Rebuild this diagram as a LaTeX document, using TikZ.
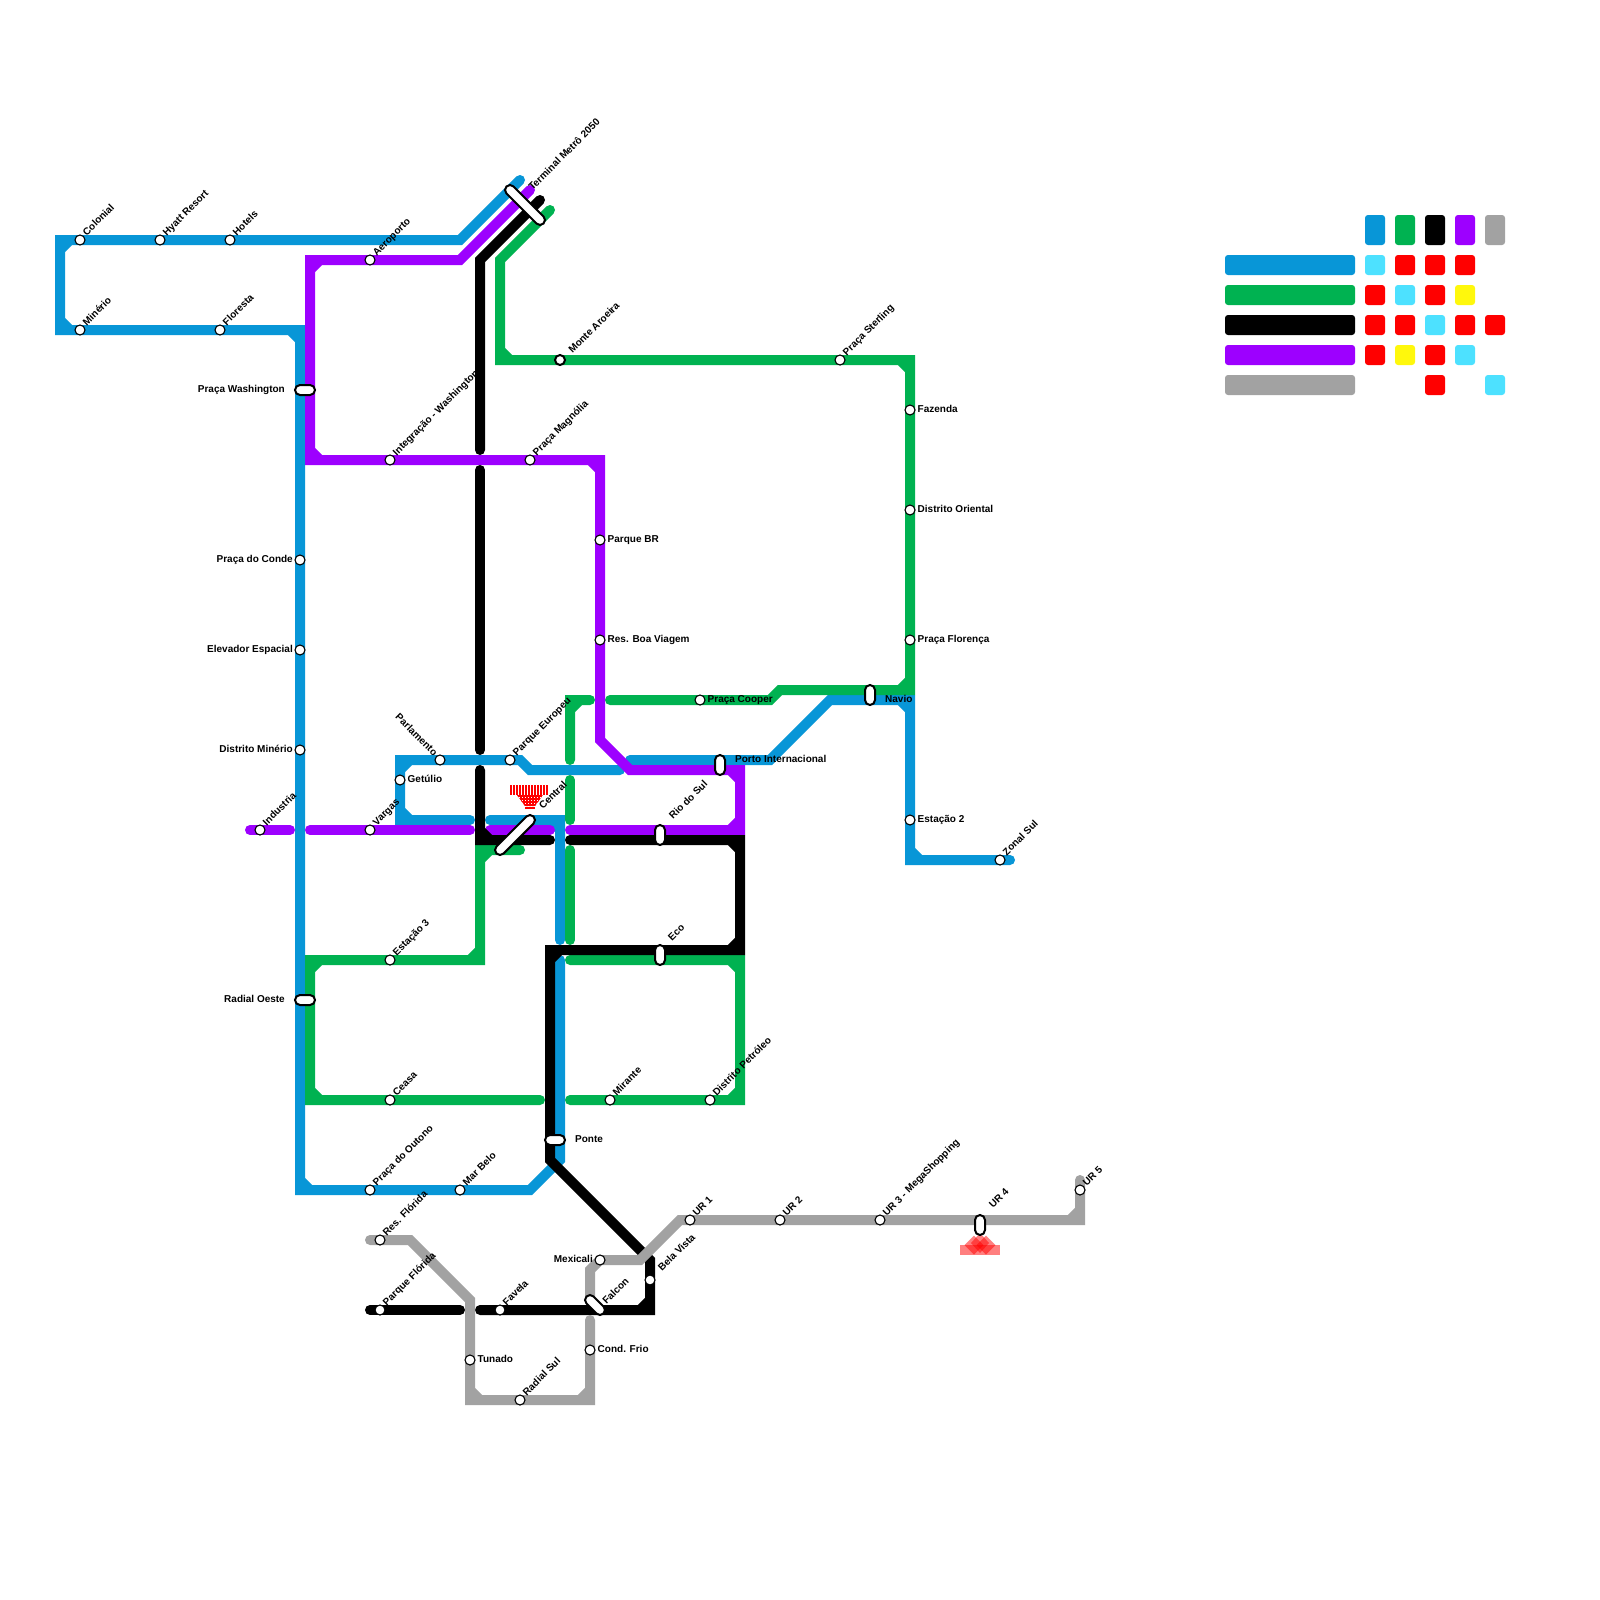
\documentclass[tikz,border=0pt]{standalone}
\usepackage{fontspec}
\setmainfont{Liberation Sans}
\usetikzlibrary{calc}
\definecolor{cblue}{HTML}{0896D7}
\definecolor{cgreen}{HTML}{00B251}
\definecolor{cpurple}{HTML}{9D00FF}
\definecolor{cgrey}{HTML}{A2A2A2}
\definecolor{ccyan}{HTML}{4DE1FF}
\definecolor{cyell}{HTML}{FFF80C}
\pgfdeclarelayer{bg}
\pgfsetlayers{bg,main}
\tikzset{
  metro/.style={line width=10pt,line cap=round,line join=miter,miter limit=10},
  lblue/.style={metro,draw=cblue},
  lgreen/.style={metro,draw=cgreen},
  lpurple/.style={metro,draw=cpurple},
  lblack/.style={metro,draw=black},
  lgrey/.style={metro,draw=cgrey},
  stn/.style={circle,draw=black,fill=white,line width=1.1pt,minimum size=10pt,inner sep=0pt},
  capn/.style={rectangle,draw=black,fill=white,line width=2pt,rounded corners=5pt,inner sep=0pt,minimum height=10pt},
  txt/.style={inner sep=0pt,font=\bfseries\fontsize{10}{10}\selectfont,text=black},
  lup/.style={txt,anchor=base west,rotate=45},
  lupl/.style={txt,anchor=base east,rotate=-45},
  lrt/.style={txt,anchor=base west},
  llf/.style={txt,anchor=base east},
}
\newcommand\stU[4]{\node[stn] (#1) at (#2,#3) {}; \node[lup] (#1L) at ([shift={(6.7,-3.7)}]#1.center) {#4};}
\newcommand\stR[4]{\node[stn] (#1) at (#2,#3) {}; \node[lrt] (#1L) at ([shift={(7.5,2)}]#1.center) {#4};}
\newcommand\stL[4]{\node[stn] (#1) at (#2,#3) {}; \node[llf] (#1L) at ([shift={(-7,2)}]#1.center) {#4};}
\begin{document}
\begin{tikzpicture}[x=1pt,y=-1pt]
\useasboundingbox (0,0) rectangle (1600,1600);
% stations
\stU{colonial}{80}{240}{Colonial}
\stU{hyatt}{160}{240}{Hyatt Resort}
\stU{hotels}{230}{240}{Hotels}
\stU{minerio}{80}{330}{Minério}
\stU{floresta}{220}{330}{Floresta}
\stL{conde}{300}{560}{Praça do Conde}
\stL{elevador}{300}{650}{Elevador Espacial}
\stL{dminerio}{300}{750}{Distrito Minério}
\stU{industria}{260}{830}{Industria}
\stU{aeroporto}{370}{260}{Aeroporto}
\stU{integracao}{390}{460}{Integração - Washington}
\stU{magnolia}{530}{460}{Praça Magnólia}
\stR{parquebr}{600}{540}{Parque BR}
\stR{boaviagem}{600}{640}{Res. Boa Viagem}
\node[stn] (parlamento) at (440,760) {};
\node[lupl] (parlamentoL) at ([shift={(-6.5,-3.5)}]parlamento.center) {Parlamento};
\stU{europeu}{510}{760}{Parque Europeu}
\stR{getulio}{400}{780}{Getúlio}
\stU{vargas}{370}{830}{Vargas}
\stU{estacao3}{390}{960}{Estação 3}
\stU{ceasa}{390}{1100}{Ceasa}
\stU{mirante}{610}{1100}{Mirante}
\stU{petroleo}{710}{1100}{Distrito Petróleo}
\stU{outono}{370}{1190}{Praça do Outono}
\stU{marbelo}{460}{1190}{Mar Belo}
\stR{cooper}{700}{700}{Praça Cooper}
\node[stn,line width=2pt] (aroeira) at (560,360) {};
\node[lup] (aroeiraL) at ([shift={(12.5,-6)}]aroeira.center) {Monte Aroeira};
\stU{sterling}{840}{360}{Praça Sterling}
\stR{fazenda}{910}{410}{Fazenda}
\stR{oriental}{910}{510}{Distrito Oriental}
\stR{florenca}{910}{640}{Praça Florença}
\stR{estacao2}{910}{820}{Estação 2}
\stU{zonal}{1000}{860}{Zonal Sul}
\stU{ur1}{690}{1220}{UR 1}
\stU{ur2}{780}{1220}{UR 2}
\stU{ur3}{880}{1220}{UR 3 - MegaShopping}
\stU{ur5}{1080}{1190}{UR 5}
\stU{resflorida}{380}{1240}{Res. Flórida}
\stU{pflorida}{380}{1310}{Parque Flórida}
\stU{favela}{500}{1310}{Favela}
\stR{tunado}{470}{1360}{Tunado}
\stU{radialsul}{520}{1400}{Radial Sul}
\stR{condfrio}{590}{1350}{Cond. Frio}
\stL{mexicali}{600}{1260}{Mexicali}
\node[stn] (belavista) at (650,1280) {};
\node[lup] (belavistaL) at (662,1272) {Bela Vista};
% interchanges
\node[capn,minimum width=20pt] (washington) at (305,390) {};
\node[llf] (washingtonL) at (285,392) {Praça Washington};
\node[capn,minimum width=20pt] (radialoeste) at (305,1000) {};
\node[llf] (radialoesteL) at (285,1002) {Radial Oeste};
\node[capn,minimum width=52.4pt,rotate=-45] (terminal) at (525,205) {};
\node[lup] (terminalL) at (532.5,191) {Terminal Metrô 2050};
\node[capn,minimum width=52.4pt,rotate=45] (central) at (515,835) {};
\node[lup] (centralL) at (543,810) {Central};
\node[capn,minimum width=20pt,rotate=90] (riosul) at (660,835) {};
\node[lup] (riosulL) at (673,820) {Rio do Sul};
\node[capn,minimum width=20pt,rotate=90] (eco) at (660,955) {};
\node[lup] (ecoL) at (672,941.5) {Eco};
\node[capn,minimum width=20pt] (ponte) at (555,1140) {};
\node[lrt] (ponteL) at (575,1142) {Ponte};
\node[capn,minimum width=20pt,rotate=90] (porto) at (720,765) {};
\node[lrt] (portoL) at (735,762) {Porto Internacional};
\node[capn,minimum width=20pt,rotate=90] (navio) at (870,695) {};
\node[lrt] (navioL) at (885,702) {Navio};
\node[capn,minimum width=20pt,rotate=90] (ur4) at (980,1225) {};
\node[lup] (ur4L) at (993,1209) {UR 4};
\node[capn,minimum width=24.1pt,rotate=-45] (falcon) at (595,1305) {};
\node[lup] (falconL) at (606.5,1305) {Falcon};
\begin{pgfonlayer}{bg}
\fill[white] (0,0) rectangle (1600,1600);
% blue
\draw[lblue] (520,180)--(460,240)--(hotels.center)--(hyatt.center)--(colonial.center)--(60,240)--(60,330)--(minerio.center)--(floresta.center)--(300,330)--(conde.center)--(elevador.center)--(dminerio.center)--(300,1190)--(outono.center)--(marbelo.center)--(530,1190)--(560,1160)--(560,960)
  (70,240)--(60,250) (60,320)--(70,330) (290,330)--(300,340) (300,1180)--(310,1190);
\draw[lblue] (470,820)--(400,820)--(getulio.center)--(400,760)--(parlamento.center)--(europeu.center)--(520,760)--(530,770)--(620,770)
  (400,810)--(410,820) (400,770)--(410,760);
\draw[lblue] (490,820)--(560,820)--(560,940) (550,820)--(560,830);
\draw[lblue] (630,760)--(770,760)--(830,700)--(910,700)--(estacao2.center)--(910,860)--(zonal.center)--(1010,860)
  (900,700)--(910,710) (910,850)--(920,860);
% green
\draw[lgreen] (550,210)--(500,260)--(500,360)--(aroeira.center)--(sterling.center)--(910,360)--(fazenda.center)--(oriental.center)--(florenca.center)--(910,690)--(780,690)--(770,700)--(cooper.center)--(610,700)
  (500,350)--(510,360) (900,360)--(910,370) (910,680)--(900,690);
\draw[lgreen] (590,700)--(570,700)--(570,760) (580,700)--(570,710);
\draw[lgreen] (570,780)--(570,820);
\draw[lgreen] (570,850)--(570,940);
\draw[lgreen] (570,960)--(740,960)--(740,1100)--(petroleo.center)--(mirante.center)--(570,1100)
  (730,960)--(740,970) (740,1090)--(730,1100);
\draw[lgreen] (520,850)--(480,850)--(480,960)--(estacao3.center)--(310,960)--(310,1100)--(ceasa.center)--(540,1100)
  (490,850)--(480,860) (480,950)--(470,960) (320,960)--(310,970) (310,1090)--(320,1100);
% purple
\draw[lpurple] (530,190)--(460,260)--(aeroporto.center)--(310,260)--(310,460)--(integracao.center)--(magnolia.center)--(600,460)--(parquebr.center)--(boaviagem.center)--(600,740)--(630,770)--(740,770)--(740,830)--(570,830)
  (320,260)--(310,270) (310,450)--(320,460) (590,460)--(600,470) (730,770)--(740,780) (740,820)--(730,830);
\draw[lpurple] (250,830)--(industria.center)--(290,830);
\draw[lpurple] (310,830)--(vargas.center)--(470,830);
\draw[lpurple] (490,830)--(550,830);
% black
\draw[lblack] (540,200)--(480,260)--(480,450);
\draw[lblack] (480,470)--(480,750);
\draw[lblack] (480,770)--(480,840)--(550,840) (480,830)--(490,840);
\draw[lblack] (570,840)--(740,840)--(740,950)--(550,950)--(550,1160)--(650,1260)--(belavista.center)--(650,1310)--(favela.center)--(480,1310)
  (730,840)--(740,850) (740,940)--(730,950) (560,950)--(550,960) (650,1300)--(640,1310);
\draw[lblack] (370,1310)--(pflorida.center)--(460,1310);
% grey
\draw[lgrey] (1080,1180)--(ur5.center)--(1080,1220)--(ur3.center)--(ur2.center)--(ur1.center)--(680,1220)--(640,1260)--(mexicali.center)--(590,1270)--(590,1300)
  (1080,1210)--(1070,1220);
\draw[lgrey] (590,1320)--(condfrio.center)--(590,1400)--(radialsul.center)--(470,1400)--(tunado.center)--(470,1300)--(410,1240)--(resflorida.center)--(370,1240)
  (590,1390)--(580,1400) (470,1390)--(480,1400);
% red marks
\begin{scope}
  \foreach \px in {510,513,...,548}{\fill[red] (\px,785) rectangle ++(2,10);}
  \clip (517,795)--(543,795)--(535,806)--(525,806)--cycle;
  \foreach \py in {795,798,...,807}{\fill[red] (517,\py) rectangle ++(26,2);}
  \foreach \px in {517,520,...,543}{\fill[red] (\px,795) rectangle ++(2,12);}
\end{scope}
\foreach \py in {801,804,807}{\fill[red] (525,\py) rectangle ++(10,2);}
\fill[red,opacity=.5] (960,1245) rectangle (1000,1255);
\fill[red,opacity=.5] (974,1235.5)--(983.5,1245)--(974,1254.5)--(964.5,1245)--cycle;
\fill[red,opacity=.5] (986,1235.5)--(995.5,1245)--(986,1254.5)--(976.5,1245)--cycle;
\fill[red,opacity=.5] (980,1233)--(989,1243)--(980,1253)--(971,1243)--cycle;
% legend
\foreach \yy/\cc in {255/cblue,285/cgreen,315/black,345/cpurple,375/cgrey}{\fill[\cc,rounded corners=3pt] (1225,\yy) rectangle ++(130,20);}
\foreach \xx/\cc in {1365/cblue,1395/cgreen,1425/black,1455/cpurple,1485/cgrey}{\fill[\cc,rounded corners=3pt] (\xx,215) rectangle ++(20,30);}
\foreach \xx/\yy/\cc in {1365/255/ccyan,1395/255/red,1425/255/red,1455/255/red,
  1365/285/red,1395/285/ccyan,1425/285/red,1455/285/cyell,
  1365/315/red,1395/315/red,1425/315/ccyan,1455/315/red,1485/315/red,
  1365/345/red,1395/345/cyell,1425/345/red,1455/345/ccyan,
  1425/375/red,1485/375/ccyan}{\fill[\cc,rounded corners=3pt] (\xx,\yy) rectangle ++(20,20);}
\end{pgfonlayer}
\end{tikzpicture}
\end{document}
